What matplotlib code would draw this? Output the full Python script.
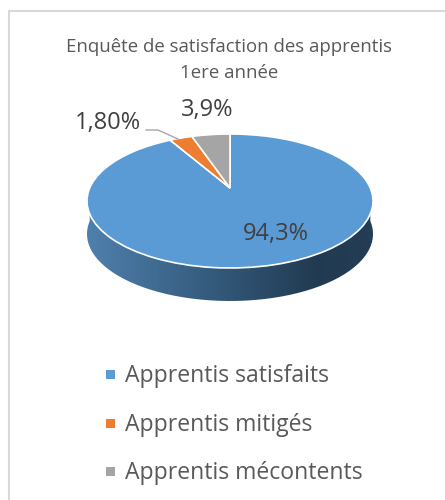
import numpy as np
import matplotlib

matplotlib.use('Agg')
from matplotlib import pyplot as plt
from matplotlib import transforms as mtrans
from matplotlib.patches import Rectangle, PathPatch
from matplotlib.path import Path

title = "Enquête de satisfaction des apprentis\n1ere année"
categories = ["Apprentis satisfaits", "Apprentis mitigés", "Apprentis mécontents"]
# the slices as drawn do not quite agree with their printed labels
drawn_shares = [91.7, 3.1, 5.2]
value_labels = ["94,3%", "1,80%", "3,9%"]
colors = ["#5b9bd5", "#ed7d31", "#a5a5a5"]

TEXT = "#595959"
W, H = 445, 500
CX, CY = 230, 188  # pie apex in pixels
PERSP = 0.194
RX, RY, SHIFT = 140.3, 67, 13
DEPTH = 33

plt.rcParams['font.family'] = ['Open Sans', 'DejaVu Sans']


class Tilt(mtrans.Transform):
    # unit disc seen from above, with the near edge bigger than the far edge
    input_dims = 2
    output_dims = 2

    def transform_non_affine(self, xy):
        xy = np.asarray(xy, dtype=float)
        d = 1 + PERSP * xy[:, 1]
        return np.column_stack((CX + RX * xy[:, 0] / d,
                                CY + SHIFT - (RY * xy[:, 1] + SHIFT) / d))

    def transform_path_non_affine(self, path):
        return Path(self.transform_non_affine(path.vertices), path.codes)


fig = plt.figure(figsize=(W / 100, H / 100), dpi=100)
ax = fig.add_axes([0, 0, 1, 1])
ax.set_xlim(0, W)
ax.set_ylim(H, 0)
ax.axis('off')

ax.add_patch(Rectangle((9, 11), 470, 520, fc='white', ec='#d9d9d9', lw=1.5))

# side wall of the disc
t = np.linspace(np.pi, 2 * np.pi, 120)
tilt = Tilt()
rim = tilt.transform_non_affine(np.column_stack((np.cos(t), np.sin(t))))
left_x = rim[:, 0]
wall = np.vstack((rim, (rim + [0, DEPTH])[::-1]))
grad = np.array([[0.31, 0.50, 0.68], [0.20, 0.35, 0.48], [0.13, 0.23, 0.32], [0.14, 0.24, 0.33]])
stops = np.interp(np.linspace(0, 1, 256), [0, 0.45, 0.8, 1], [0, 1, 2, 3])
img = np.array([[np.interp(s, [0, 1, 2, 3], grad[:, c]) for c in range(3)] for s in stops])[None, :, :]
im = ax.imshow(img, extent=(left_x.min(), left_x.max(), rim[:, 1].max() + DEPTH, rim[:, 1].min()),
               aspect='auto', zorder=2)
im.set_clip_path(PathPatch(Path(wall), transform=ax.transData))

# slices go through ax.pie, clockwise from twelve o'clock
wedges, _ = ax.pie(drawn_shares, colors=colors, startangle=90, counterclock=False,
                   radius=1, wedgeprops=dict(edgecolor='white', linewidth=1.2))
for w in wedges:
    w.set_transform(tilt + ax.transData)
    w.set_zorder(3)
ax.set_aspect('auto')
ax.set_xlim(0, W)
ax.set_ylim(H, 0)

ax.text(229, 46.5, title.split("\n")[0], ha='center', va='center', fontsize=13.4, color=TEXT)
ax.text(229, 72.5, title.split("\n")[1], ha='center', va='center', fontsize=13.4, color=TEXT)

label_pos = [(276, 234), (108, 123.5), (207, 110)]
for txt, (x, y) in zip(value_labels, label_pos):
    ax.text(x, y, txt, ha='center', va='center', fontsize=17, color='#404040', zorder=5)
ax.plot([146, 158, 178], [130, 130, 139], color='#a6a6a6', lw=1, zorder=4)

legend_y = [374, 423, 471]
for name, col, y in zip(categories, colors, legend_y):
    ax.add_patch(Rectangle((106, y - 4.5), 9, 9, fc=col, ec='none', zorder=4))
    ax.text(125, y + 2, name, ha='left', va='center', fontsize=16.6, color=TEXT)

fig.savefig('out.png', dpi=100)
